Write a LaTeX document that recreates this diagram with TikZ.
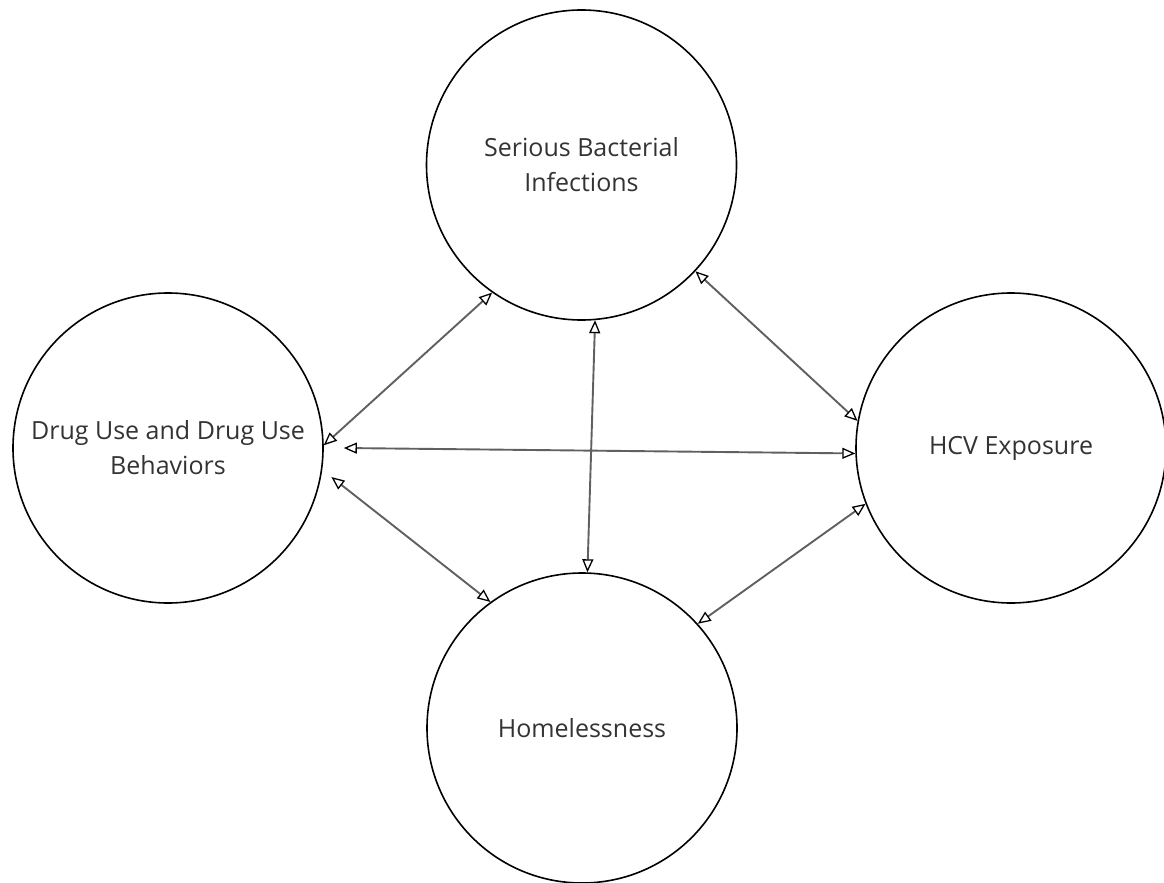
\documentclass[tikz,border=0pt]{standalone}
\usepackage{fontspec}
\setmainfont{Open Sans}
\usetikzlibrary{arrows.meta}
\definecolor{txtgray}{HTML}{333333}
\definecolor{linegray}{HTML}{606060}
\tikzset{
  circ/.style={circle, draw=black, line width=1.6pt, minimum size=310pt, inner sep=0pt,
    align=center, text=txtgray, font=\fontsize{25}{35}\selectfont},
  conn/.style={draw=linegray, line width=1.9pt,
    {Triangle[open, length=13pt, width=11pt, color=black, line width=1.3pt]}-{Triangle[open, length=13pt, width=11pt, color=black, line width=1.3pt]}}
}
\begin{document}
\begin{tikzpicture}[x=1pt,y=-1pt]
\useasboundingbox (0,0) rectangle (1164,883);
\node[circ] (sbi) at (581.5,165) {Serious Bacterial\\Infections};
\node[circ] (drug) at (168,448) {Drug Use and Drug Use\\Behaviors};
\node[circ] (hcv) at (1011,448) {HCV Exposure};
\node[circ] (home) at (582,728) {Homelessness};
\draw[conn] (drug.1.1) -- (sbi.-125.4);
\draw[conn] ([xshift=20pt]drug.-0.7) -- (hcv.-178.1);
\draw[conn] (sbi.-43.6) -- (hcv.170.7);
\draw[conn] (sbi.-85.8) -- (home.88.1);
\draw[conn] ([xshift=10pt,yshift=-2pt]drug.-10.5) -- (home.126.8);
\draw[conn] (hcv.-159) -- (home.42.9);
\end{tikzpicture}
\end{document}
